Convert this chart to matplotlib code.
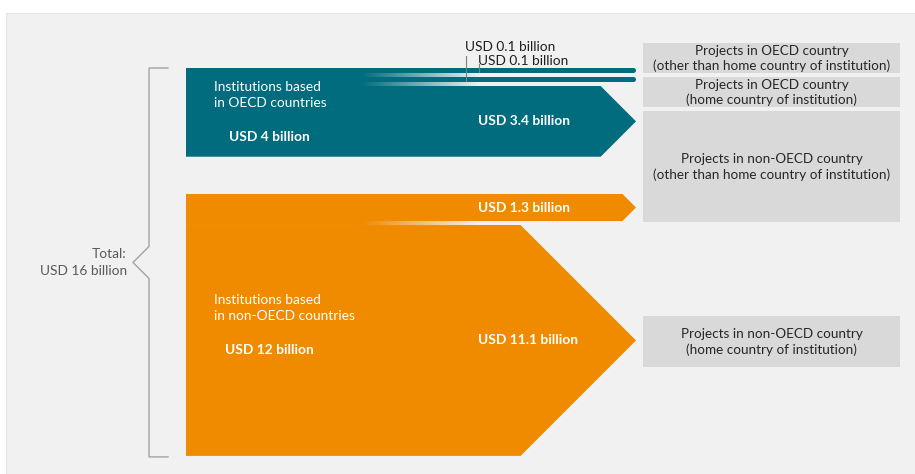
import numpy as np
import matplotlib
matplotlib.use("Agg")
import matplotlib.pyplot as plt
from matplotlib.patches import Polygon, Rectangle, Ellipse

plt.rcParams['font.family'] = ['Lato', 'DejaVu Sans']

# ---------------- data ----------------
source_names = ["Institutions based\nin OECD countries",
                "Institutions based\nin non-OECD countries"]
source_totals = [4, 12]
grand_total = 16
target_names = ["Projects in OECD country\n(other than home country of institution)",
                "Projects in OECD country\n(home country of institution)",
                "Projects in non-OECD country\n(other than home country of institution)",
                "Projects in non-OECD country\n(home country of institution)"]
flow_source = [0, 0, 0, 1, 1]
flow_target = [0, 1, 2, 2, 3]
flow_values = [0.1, 0.1, 3.4, 1.3, 11.1]

# ---------------- style / layout ----------------
TEAL = "#006c7e"
ORANGE = "#f08b00"
BG = "#f1f1f1"
BOX = "#d9d9d9"
BRACKET = "#a3a3a3"
source_colors = [TEAL, ORANGE]
source_tops = [68, 194]
X0, TIP = 186, 636
SCALE, MIN_W, GAP = 20.8, 5, 4
FADE0, FADE1 = 362, 480
target_boxes = [(43, 73), (77, 107), (111, 222), (316, 367)]
BOX_X0, BOX_X1 = 643, 900
FS = 9.9
FS_BOX = 9.7

fig = plt.figure(figsize=(9.15, 4.74), dpi=100)
fig.patch.set_facecolor("white")
ax = fig.add_axes([0, 0, 1, 1])
ax.set_xlim(0, 915)
ax.set_ylim(474, 0)
ax.axis("off")

ax.add_patch(Rectangle((6, 13), 915, 470, facecolor=BG, edgecolor="#e4e4e4", lw=0.8, zorder=0))


def fmt(v):
    return f"USD {v:g} billion"


# compute flow geometry
flow_geo = []
cursor = {i: t for i, t in enumerate(source_tops)}
for s, v in zip(flow_source, flow_values):
    w = max(MIN_W, v * SCALE)
    top = cursor[s]
    flow_geo.append((top, top + w))
    cursor[s] = top + w + GAP


def rgba_gradient(color, x_start, x_end, n=400):
    rgb = np.array(matplotlib.colors.to_rgb(color))
    xs = np.linspace(x_start, x_end, n)
    a = np.clip((FADE1 - xs) / (FADE1 - FADE0), 0, 1)
    img = np.zeros((1, n, 4))
    img[0, :, :3] = rgb
    img[0, :, 3] = a
    return img


# draw flows
for i, (s, v) in enumerate(zip(flow_source, flow_values)):
    top, bot = flow_geo[i]
    col = source_colors[s]
    w = bot - top
    if w <= MIN_W + 0.01:
        ax.add_patch(Rectangle((X0, top), TIP - w / 2 - X0, w,
                               facecolor=col, edgecolor="none", zorder=2))
        ax.add_patch(Ellipse((TIP - w / 2, top + w / 2), w, w,
                             facecolor=col, edgecolor="none", zorder=2))
    else:
        hw = w / 2
        mid = (top + bot) / 2
        ax.add_patch(Polygon([(X0, top), (TIP - hw, top), (TIP, mid),
                              (TIP - hw, bot), (X0, bot)], closed=True,
                             facecolor=col, edgecolor="none", zorder=2))

# gaps between flows of the same source (fading)
for i in range(len(flow_values) - 1):
    if flow_source[i] != flow_source[i + 1]:
        continue
    t0, b0 = flow_geo[i]
    t1, b1 = flow_geo[i + 1]
    x_end = FADE1 + 5
    img = rgba_gradient(source_colors[flow_source[i]], X0, x_end)
    ax.imshow(img, extent=(X0, x_end, t1 + 0.3, b0 - 0.3), aspect="auto",
              interpolation="bilinear", zorder=1.5)

ax.set_xlim(0, 915)
ax.set_ylim(474, 0)

# source labels
for s, (name, tot) in enumerate(zip(source_names, source_totals)):
    ys = [g for g, fs in zip(flow_geo, flow_source) if fs == s]
    top, bot = ys[0][0], ys[-1][1]
    ctr = (top + bot) / 2
    ax.text(214, ctr - 17, name, color="white", fontsize=FS, ha="left", va="center",
            linespacing=1.4, zorder=5)
    ax.text(269, ctr + 25, fmt(tot), color="white", fontsize=FS, fontweight="bold",
            ha="center", va="center", zorder=5)

# flow labels
small_label_pos = {1: (465, 47, 56), 0: (478, 61, 64)}
for i, v in enumerate(flow_values):
    top, bot = flow_geo[i]
    if bot - top <= MIN_W + 0.01:
        lx, ly, line_top = small_label_pos[i]
        ax.text(lx, ly, fmt(v), color="#1f1f1f", fontsize=FS, ha="left", va="center", zorder=6)
        ax.plot([lx + 0.5, lx + 0.5], [line_top, (top + bot) / 2 + 1], color="#7f7f7f",
                lw=0.8, zorder=6)
    else:
        ax.text(478, (top + bot) / 2, fmt(v), color="white", fontsize=FS,
                fontweight="bold", ha="left", va="center", zorder=5)

# target boxes
for name, (y0, y1) in zip(target_names, target_boxes):
    ax.add_patch(Rectangle((BOX_X0, y0), BOX_X1 - BOX_X0, y1 - y0,
                           facecolor=BOX, edgecolor="none", zorder=2))
    ax.text((BOX_X0 + BOX_X1) / 2, (y0 + y1) / 2 + 0.5, name, color="#262626",
            fontsize=FS_BOX, ha="center", va="center", linespacing=1.3, zorder=5)

# total bracket
btop = source_tops[0]
bbot = flow_geo[-1][1] + 1
bmid = (btop + bbot) / 2
ax.plot([168, 149, 149, 133, 149, 149, 168],
        [btop, btop, bmid - 16, bmid, bmid + 16, bbot, bbot],
        color=BRACKET, lw=1.0, zorder=3, solid_joinstyle="miter")
ax.text(127, bmid, f"Total:\nUSD {grand_total} billion", color="#595959", fontsize=FS,
        ha="right", va="center", multialignment="right", linespacing=1.45)

fig.savefig("out.png", dpi=100, facecolor="white")
